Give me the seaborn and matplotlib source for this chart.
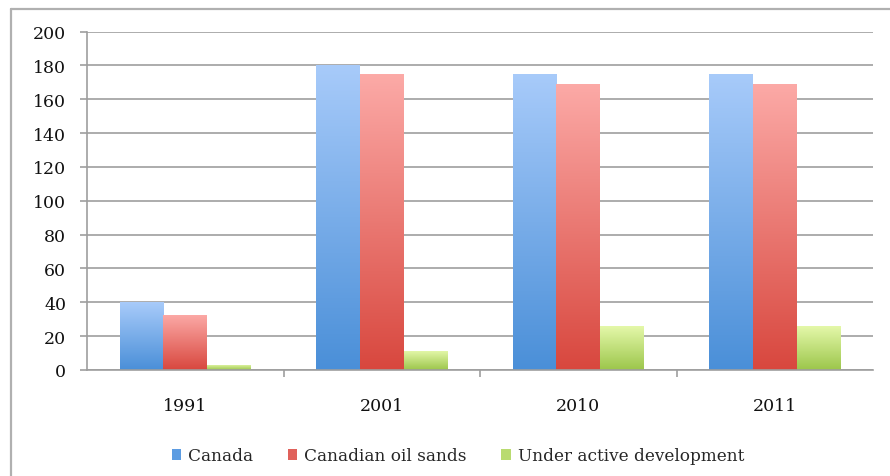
import numpy as np
import pandas as pd
import matplotlib
matplotlib.use("Agg")
import matplotlib.pyplot as plt
import seaborn as sns
from matplotlib.colors import to_rgba
from matplotlib.patches import Patch
from matplotlib.lines import Line2D

# Oil reserves (billion barrels)
years = ["1991", "2001", "2010", "2011"]
series = ["Canada", "Canadian oil sands", "Under active development"]
canada = [40, 180.5, 175, 175]
oil_sands = [32.5, 174.7, 169, 169]
active_dev = [3, 11.3, 26, 26]

# gradient (top, bottom) and legend swatch colour for each series
top_colors = ["#A8CBFA", "#FCAAA7", "#E6F9AC"]
bottom_colors = ["#4A8FD8", "#D8473E", "#9CC64B"]
swatch_colors = ["#5C9CE2", "#E0615B", "#B9DB70"]

df = pd.DataFrame({
    "year": years * 3,
    "series": [s for s in series for _ in years],
    "value": canada + oil_sands + active_dev,
})

sns.set_theme(style="white")
plt.rcParams["font.family"] = ["DejaVu Serif"]

fig = plt.figure(figsize=(8.9, 4.77), dpi=100)
ax = fig.add_axes([87 / 890, 1 - 371 / 477, (873 - 87) / 890, (371 - 32.5) / 477])

sns.barplot(data=df, x="year", y="value", hue="series", order=years,
            hue_order=series, width=0.667, saturation=1, legend=False,
            errorbar=None, ax=ax)

# vertical gradient fill for every bar
for cont, c_top, c_bot in zip(ax.containers, top_colors, bottom_colors):
    t = np.array(to_rgba(c_top))
    b = np.array(to_rgba(c_bot))
    frac = np.linspace(0, 1, 256)[:, None]
    grad = (b + (t - b) * frac)[:, None, :]
    for bar in cont:
        x0, y0 = bar.get_x(), bar.get_y()
        w, h = bar.get_width(), bar.get_height()
        im = ax.imshow(grad, extent=[x0, x0 + w, y0, y0 + h], origin="lower",
                       aspect="auto", interpolation="bilinear", zorder=2)
        im.set_clip_path(bar)
        bar.set_facecolor("none")
        bar.set_edgecolor("none")

ax.set_xlim(-0.5, len(years) - 0.5)
ax.set_ylim(0, 200)
ax.set_yticks(np.arange(0, 201, 20))
ax.set_xlabel("")
ax.set_ylabel("")

grid_c = "#9E9E9E"
ax.yaxis.grid(True, color=grid_c, linewidth=1.2, zorder=0)
ax.set_axisbelow(True)
for side in ["top", "right"]:
    ax.spines[side].set_visible(False)
for side in ["left", "bottom"]:
    ax.spines[side].set_color(grid_c)
    ax.spines[side].set_linewidth(1.2)

ax.tick_params(axis="y", which="major", length=5, width=1.2, color=grid_c,
               pad=10, labelsize=12.5, labelcolor="#111111", left=True)
ax.tick_params(axis="x", which="major", length=0, pad=19.5, labelsize=12.5,
               labelcolor="#111111")
ax.set_xticks([0.5, 1.5, 2.5], minor=True)
ax.tick_params(axis="x", which="minor", length=5, width=1.2, color=grid_c,
               bottom=True)

handles = [Patch(facecolor=c, edgecolor="none") for c in swatch_colors]
fig.legend(handles, series, loc="center", bbox_to_anchor=(458 / 890, 1 - 457 / 477),
           ncol=3, frameon=False, fontsize=12.2, handlelength=0.55,
           handleheight=0.55, handletextpad=0.4, columnspacing=2.05)

# outer chart frame (left and top edges)
frame_c = "#B0B0B0"
fig.add_artist(Line2D([11 / 890, 11 / 890], [0, 1 - 10 / 477], color=frame_c,
                      linewidth=1.6, transform=fig.transFigure))
fig.add_artist(Line2D([11 / 890, 1], [1 - 10 / 477, 1 - 10 / 477], color=frame_c,
                      linewidth=1.6, transform=fig.transFigure))

fig.savefig("out.png", dpi=100)
